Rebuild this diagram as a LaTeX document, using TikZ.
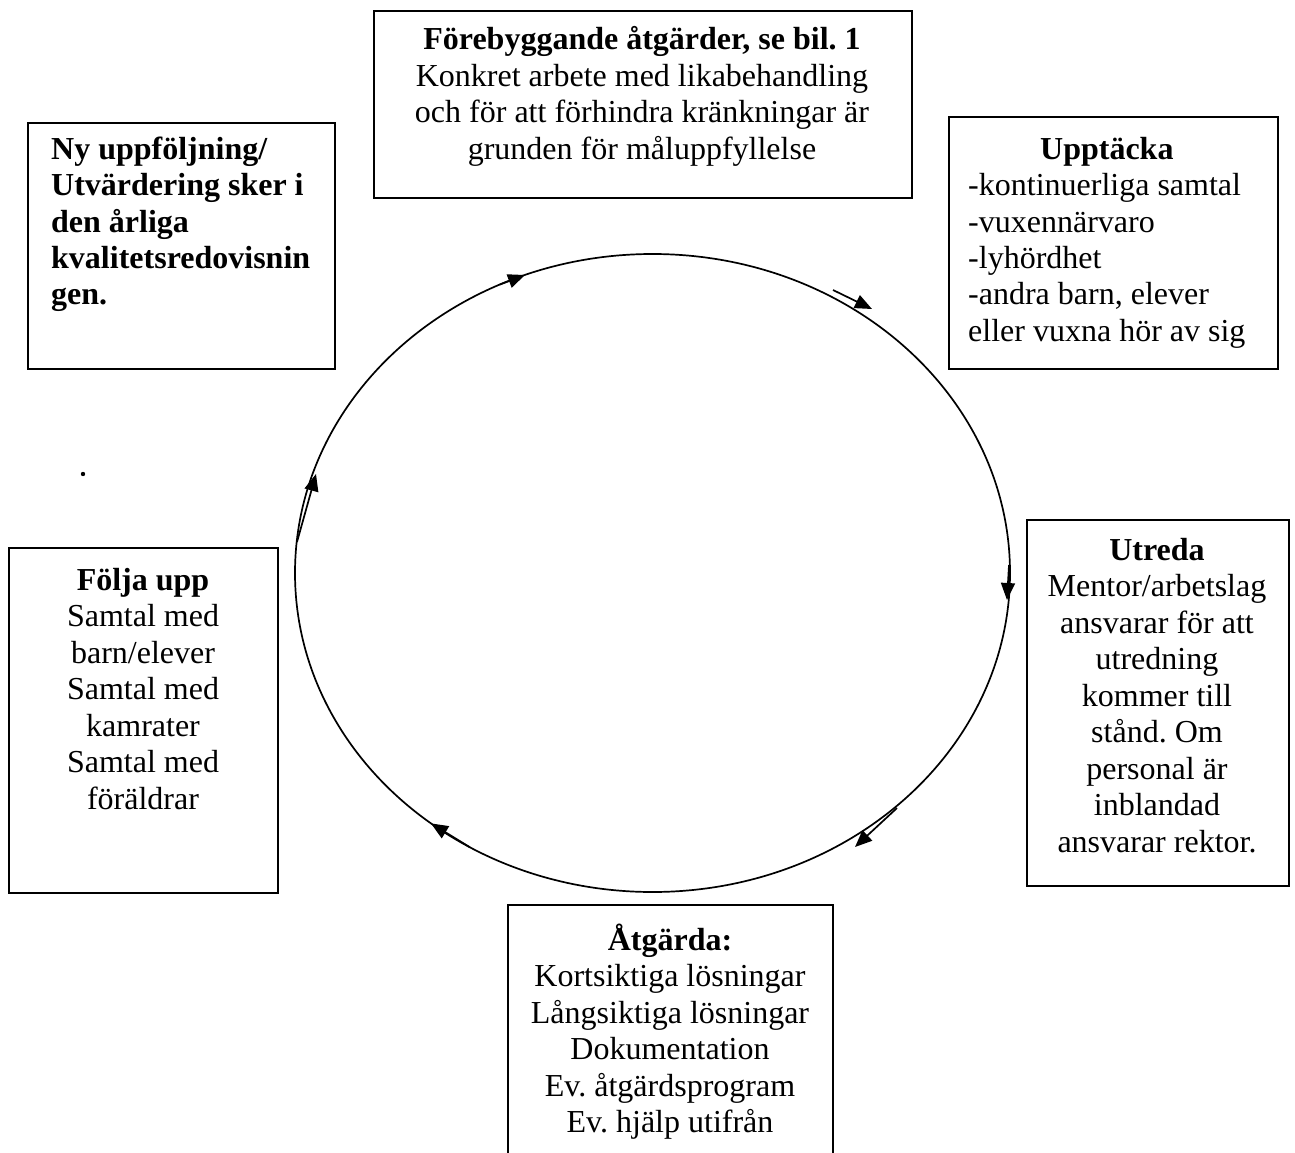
\documentclass[tikz,border=0pt]{standalone}
\usepackage{fontspec}
\setmainfont{Liberation Serif}
\usetikzlibrary{arrows.meta}
\frenchspacing
\begin{document}
\begin{tikzpicture}[x=1pt,y=-1pt,
 box/.style={draw, line width=1.7pt, inner sep=0pt, anchor=north west},
 txt/.style={inner sep=0pt, anchor=base, font=\fontsize{32}{36.5}\selectfont},
 ring/.style={line width=1.7pt},
 arr/.style={line width=1.7pt, -{Triangle[length=17pt,width=14pt]}}]
\useasboundingbox (0,0) rectangle (1295,1153);
\clip (0,0) rectangle (1295,1153);

% boxes
\node[box, minimum width=538pt, minimum height=187pt] (prev) at (373,10) {};
\node[box, minimum width=307pt, minimum height=246pt] (ny) at (27,122) {};
\node[box, minimum width=329pt, minimum height=252pt] (upp) at (948,116) {};
\node[box, minimum width=262pt, minimum height=366pt] (utr) at (1026,519) {};
\node[box, minimum width=269pt, minimum height=345pt] (folja) at (8,547) {};
\coordinate (atgbl) at (508,1160);
\coordinate (atgtl) at (508,905);
\coordinate (atgtr) at (833,905);
\coordinate (atgbr) at (833,1160);
\draw[line width=1.7pt] (atgbl) -- (atgtl) -- (atgtr) -- (atgbr);

% texts
\node[txt] (prevt) at (642,50) {\begin{tabular}[t]{@{}c@{}}
\textbf{Förebyggande åtgärder, se bil. 1}\\
Konkret arbete med likabehandling\\
och för att förhindra kränkningar är\\
grunden för måluppfyllelse\end{tabular}};

\node[txt, anchor=base west] (nyt) at (51,159) {\bfseries\begin{tabular}[t]{@{}l@{}}
Ny uppföljning/\\
Utvärdering sker i\\
den årliga\\
kvalitetsredovisnin\\
gen.\end{tabular}};

\node[txt, anchor=base west] (uppt) at (968,159) {\begin{tabular}[t]{@{}l@{}}
\multicolumn{1}{@{}c@{}}{\textbf{Upptäcka}}\\
-kontinuerliga samtal\\
-vuxennärvaro\\
-lyhördhet\\
-andra barn, elever\\
eller vuxna hör av sig\end{tabular}};

\node[txt] (utrt) at (1157,560) {\begin{tabular}[t]{@{}c@{}}
\textbf{Utreda}\\
Mentor/arbetslag\\
ansvarar för att\\
utredning\\
kommer till\\
stånd. Om\\
personal är\\
inblandad\\
ansvarar rektor.\end{tabular}};

\node[txt] (atgt) at (670,950) {\begin{tabular}[t]{@{}c@{}}
\textbf{Åtgärda:}\\
Kortsiktiga lösningar\\
Långsiktiga lösningar\\
Dokumentation\\
Ev. åtgärdsprogram\\
Ev. hjälp utifrån\end{tabular}};

\node[txt] (foljat) at (143,590) {\begin{tabular}[t]{@{}c@{}}
\textbf{Följa upp}\\
Samtal med\\
barn/elever\\
Samtal med\\
kamrater\\
Samtal med\\
föräldrar\end{tabular}};

\fill (83,474) circle (2.2pt);

% cycle
\draw[ring] (652.5,573) ellipse [x radius=357.5, y radius=319];
\coordinate (a1s) at (500,284.5);
\coordinate (a1e) at (525,275);
\coordinate (a2s) at (833,290);
\coordinate (a2e) at (872,309);
\coordinate (a3s) at (1009,565);
\coordinate (a3e) at (1007,600);
\coordinate (a4s) at (897,808);
\coordinate (a4e) at (855,847);
\coordinate (a5s) at (470,847.3);
\coordinate (a5e) at (431,823.4);
\coordinate (a6s) at (297,542);
\coordinate (a6e) at (316,474);
\draw[arr] (a1s) -- (a1e);
\draw[arr] (a2s) -- (a2e);
\draw[arr] (a3s) -- (a3e);
\draw[arr] (a4s) -- (a4e);
\draw[arr] (a5s) -- (a5e);
\draw[arr] (a6s) -- (a6e);
\end{tikzpicture}
\end{document}
